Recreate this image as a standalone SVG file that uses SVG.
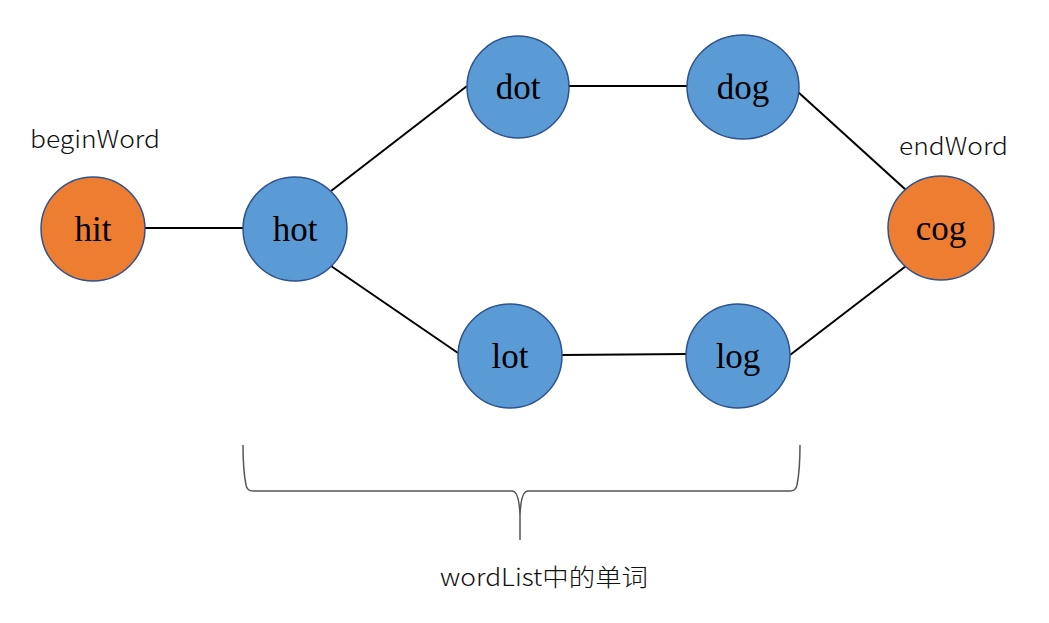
<svg xmlns="http://www.w3.org/2000/svg" width="1049" height="623" viewBox="0 0 1049 623">
<style>
.blue{fill:#5b9bd5;stroke:#2f528f;stroke-width:1.5}
.orange{fill:#ed7d31;stroke:#2f528f;stroke-width:1.5}
.lbl{font-family:"Liberation Serif","Times New Roman",serif;font-size:35px;fill:#000;text-anchor:middle}
.note{font-family:"Noto Sans CJK SC","Noto Sans",sans-serif;font-weight:300;font-size:24px;fill:#111}
.edge{stroke:#000;stroke-width:2;fill:none}
</style>
<rect width="1049" height="623" fill="#fff"/>
<g id="connectors">
<line class="edge" x1="145" y1="228" x2="243" y2="228"/>
<line class="edge" x1="331" y1="191" x2="467" y2="86"/>
<line class="edge" x1="569" y1="86" x2="687" y2="86"/>
<line class="edge" x1="798" y1="92" x2="906" y2="190"/>
<line class="edge" x1="331" y1="266" x2="458" y2="353"/>
<line class="edge" x1="562" y1="355" x2="687" y2="354"/>
<line class="edge" x1="790" y1="355" x2="906" y2="266"/>
</g>
<g id="node-hit"><circle class="orange" cx="93" cy="229" r="52"/><text class="lbl" x="93" y="241">hit</text></g>
<g id="node-hot"><circle class="blue" cx="295" cy="229" r="52"/><text class="lbl" x="295" y="241">hot</text></g>
<g id="node-dot"><circle class="blue" cx="518" cy="87" r="51"/><text class="lbl" x="518" y="99">dot</text></g>
<g id="node-dog"><ellipse class="blue" cx="743" cy="87" rx="56" ry="52"/><text class="lbl" x="743" y="99">dog</text></g>
<g id="node-cog"><ellipse class="orange" cx="941" cy="228" rx="53" ry="52"/><text class="lbl" x="941" y="240">cog</text></g>
<g id="node-lot"><circle class="blue" cx="510" cy="356" r="52"/><text class="lbl" x="510" y="368">lot</text></g>
<g id="node-log"><circle class="blue" cx="738" cy="356" r="52"/><text class="lbl" x="738" y="368">log</text></g>
<g id="labels">
<text class="note" x="30" y="148" textLength="130" lengthAdjust="spacingAndGlyphs">beginWord</text>
<text class="note" x="899" y="155" textLength="109" lengthAdjust="spacingAndGlyphs">endWord</text>
<path d="M243,445 Q243,470 246,485 Q247,491 253,491 L512,491 Q519,491 520,515 L520,540 L520,515 Q521,491 528,491 L790,491 Q796,491 797,485 Q800,470 800,445" fill="none" stroke="#555" stroke-width="1.5"/>
<text class="note" x="440" y="586" textLength="208" lengthAdjust="spacingAndGlyphs">wordList中的单词</text>
</g>
</svg>
